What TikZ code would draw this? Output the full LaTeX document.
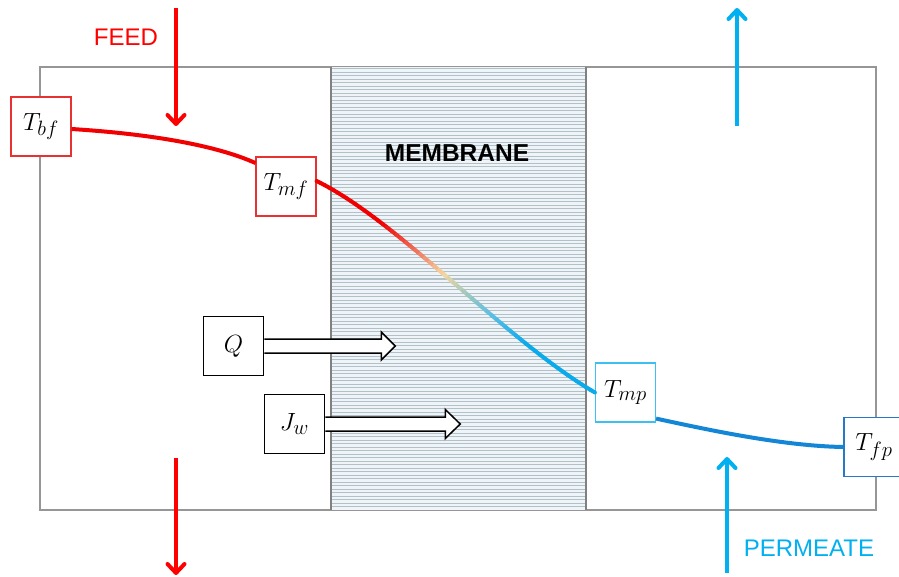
\documentclass[tikz,border=0pt]{standalone}
\usepackage{fontspec}
\setsansfont{Liberation Sans}
\usetikzlibrary{arrows.meta}
\definecolor{feedred}{RGB}{255,0,0}
\definecolor{permblue}{RGB}{0,176,240}
\definecolor{curveblue}{RGB}{20,134,214}
\definecolor{boxred}{RGB}{232,50,50}
\definecolor{mpblue}{RGB}{60,192,242}
\definecolor{fpblue}{RGB}{40,120,200}
\definecolor{memline}{RGB}{178,192,199}
\definecolor{membg}{RGB}{238,244,247}
\definecolor{framegray}{RGB}{150,150,150}
\definecolor{cA}{RGB}{240,0,0}
\definecolor{cB}{RGB}{240,110,90}
\definecolor{cC}{RGB}{245,215,160}
\definecolor{cD}{RGB}{160,200,190}
\definecolor{cE}{RGB}{90,190,230}
\definecolor{cF}{RGB}{10,170,235}
\newcommand\pickcol[1]{%
  \ifdim#1pt<0.25pt \colorlet{segc}{cA}\else
  \ifdim#1pt<0.37pt \pgfmathtruncatemacro\pp{100*(0.37-#1)/0.12}\colorlet{segc}{cA!\pp!cB}\else
  \ifdim#1pt<0.47pt \pgfmathtruncatemacro\pp{100*(0.47-#1)/0.10}\colorlet{segc}{cB!\pp!cC}\else
  \ifdim#1pt<0.55pt \pgfmathtruncatemacro\pp{100*(0.55-#1)/0.08}\colorlet{segc}{cC!\pp!cD}\else
  \ifdim#1pt<0.64pt \pgfmathtruncatemacro\pp{100*(0.64-#1)/0.09}\colorlet{segc}{cD!\pp!cE}\else
  \ifdim#1pt<0.76pt \pgfmathtruncatemacro\pp{100*(0.76-#1)/0.12}\colorlet{segc}{cE!\pp!cF}\else
  \colorlet{segc}{cF}\fi\fi\fi\fi\fi\fi}
\pgfdeclarelayer{bg}
\pgfsetlayers{bg,main}
\begin{document}
\begin{tikzpicture}[x=1pt,y=-1pt,
  tbox/.style={draw, fill=white, minimum width=60pt, minimum height=59pt, inner sep=0pt,
    line width=1.2pt, font=\fontsize{31}{31}\selectfont},
  flowarrow/.style={line width=4pt, -{Straight Barb[length=9pt,width=17pt,round]}},
  blockarrow/.style={draw=black, fill=white, line width=1.5pt, line join=miter},
  lbl/.style={font=\sffamily\fontsize{24}{24}\selectfont}]
\useasboundingbox (0,0) rectangle (899,577);
\clip (0,0) rectangle (899,577);
\begin{pgfonlayer}{bg}
  \fill[white] (0,0) rectangle (899,577);
  \draw[framegray, line width=1.5pt] (40,67) rectangle (876,510);
  \fill[membg] (331,67) rectangle (586,510);
  \foreach \y in {69,72.5,...,509}
    \draw[memline, line width=1pt] (331,\y) -- (586,\y);
  \draw[gray, line width=1.2pt] (331,67) -- (331,510) (586,67) -- (586,510);
\end{pgfonlayer}

\node[font=\sffamily\bfseries\fontsize{24.5}{24}\selectfont] (mem) at (457,153) {MEMBRANE};
\node[lbl, text=feedred] (feed) at (126,37) {FEED};
\node[lbl, text=permblue] (perm) at (809,548) {PERMEATE};

\node[tbox, draw=boxred] (tbf) at (41,126.5) {$T_{bf}$};
\node[tbox, draw=boxred] (tmf) at (286,186.5) {$T_{mf}$};
\node[tbox, draw=black, line width=1.5pt] (q) at (233.5,346) {$Q$};
\node[tbox, draw=black, line width=1.5pt] (jw) at (294.5,424) {$J_w$};
\node[tbox, draw=mpblue] (tmp) at (625.5,392.5) {$T_{mp}$};
\node[tbox, draw=fpblue] (tfp) at (874,447) {$T_{fp}$};

% temperature profile
\draw[cA, line width=4pt] ([yshift=-2.5pt]tbf.east) .. controls (150,134) and (215,145) .. ([yshift=23.5pt]tmf.west);
\path ([yshift=5.5pt]tmf.east) .. controls (400,222) and (505,340) .. (tmp.west)
  \foreach \i [evaluate=\i as \t using \i/60] in {0,...,60} {coordinate[pos=\t] (g\i)};
\foreach \i in {1,...,60} {
  \pgfmathsetmacro\tt{(\i-0.5)/60}
  \pgfmathtruncatemacro\j{\i-1}
  \pickcol{\tt}
  \draw[segc, line width=4pt, line cap=round] (g\j) -- (g\i);
}
\draw[curveblue, line width=4pt] ([yshift=4pt]tmp.south east) .. controls (700,428) and (780,446) .. (tfp.west);

% heat and mass flux arrows
\path[blockarrow] (q.east) ++(0,-7) -- ++(117,0) -- ++(0,-7) -- ++(14,14) -- ++(-14,14) -- ++(0,-7) -- ++(-117,0);
\path[blockarrow] (jw.east) ++(0,-7) -- ++(120,0) -- ++(0,-7.5) -- ++(15,14.5) -- ++(-15,14.5) -- ++(0,-7.5) -- ++(-120,0);

% stream arrows
\coordinate (fin0) at (176,8);   \coordinate (fin1) at (176,126);
\coordinate (fout0) at (176,458); \coordinate (fout1) at (176,575);
\coordinate (pin0) at (727,573); \coordinate (pin1) at (727,457);
\coordinate (pout0) at (737,126); \coordinate (pout1) at (737,8);
\draw[flowarrow, feedred] (fin0) -- (fin1);
\draw[flowarrow, feedred] (fout0) -- (fout1);
\draw[flowarrow, permblue] (pin0) -- (pin1);
\draw[flowarrow, permblue] (pout0) -- (pout1);
\end{tikzpicture}
\end{document}
